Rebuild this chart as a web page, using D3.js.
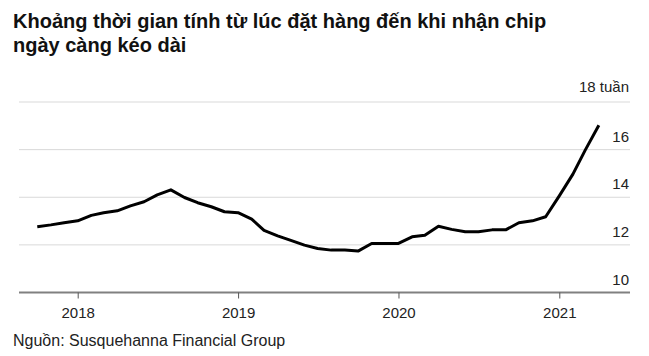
<!DOCTYPE html>
<html>
<head>
<meta charset="utf-8">
<script src="https://cdn.jsdelivr.net/npm/d3@7"></script>
<style>
  html, body { margin: 0; padding: 0; background: #fff; }
  svg { display: block; font-family: "Liberation Sans", Arial, Helvetica, sans-serif; }
</style>
</head>
<body>
<svg id="chart" width="649" height="356"></svg>
<script>
// ---- data ----
const titleLines = ["Khoảng thời gian tính từ lúc đặt hàng đến khi nhận chip", "ngày càng kéo dài"];
const sourceText = "Nguồn: Susquehanna Financial Group";
const unitLabel = "tuần";
const months = [
  "2017-10","2017-11","2017-12",
  "2018-01","2018-02","2018-03","2018-04","2018-05","2018-06","2018-07","2018-08","2018-09","2018-10","2018-11","2018-12",
  "2019-01","2019-02","2019-03","2019-04","2019-05","2019-06","2019-07","2019-08","2019-09","2019-10","2019-11","2019-12",
  "2020-01","2020-02","2020-03","2020-04","2020-05","2020-06","2020-07","2020-08","2020-09","2020-10","2020-11","2020-12",
  "2021-01","2021-02","2021-03","2021-04"
];
const leadTimeWeeks = [
  12.76,12.84,12.93,
  13.01,13.24,13.35,13.43,13.64,13.81,14.10,14.31,13.99,13.77,13.60,13.39,
  13.35,13.08,12.61,12.38,12.19,11.99,11.85,11.78,11.78,11.74,12.06,12.06,
  12.06,12.34,12.40,12.78,12.65,12.55,12.55,12.63,12.63,12.93,13.01,13.18,
  14.06,14.97,15.98,17.02
];
const yTicks = [10, 12, 14, 16, 18];
const xTickYears = [2018, 2019, 2020, 2021];

// ---- layout ----
const svg = d3.select("#chart");
const parse = d3.timeParse("%Y-%m");
const data = months.map((m, i) => ({ date: parse(m), value: leadTimeWeeks[i] }));

const plotLeft = 19, plotRight = 630;
const x = d3.scaleTime()
  .domain([new Date(2018, 0, 1), new Date(2021, 0, 1)])
  .range([77.7, 559.3]);
const y = d3.scaleLinear().domain([10, 18]).range([292.5, 102]);

// title
svg.append("g").selectAll("text").data(titleLines).join("text")
  .attr("x", 13)
  .attr("y", (d, i) => 28 + i * 24)
  .attr("font-size", 20)
  .attr("font-weight", "bold")
  .attr("fill", "#111")
  .text(d => d);

// gridlines
svg.append("g").selectAll("line").data(yTicks.filter(t => t > 10)).join("line")
  .attr("x1", plotLeft).attr("x2", plotRight)
  .attr("y1", d => y(d)).attr("y2", d => y(d))
  .attr("stroke", "#d9d9d9").attr("stroke-width", 1);

// y labels
svg.append("g").selectAll("text").data(yTicks).join("text")
  .attr("x", 629)
  .attr("y", d => y(d) - (d === 18 ? 10 : 8))
  .attr("text-anchor", "end")
  .attr("font-size", 15)
  .attr("fill", "#222")
  .text(d => d === 18 ? d + " " + unitLabel : d);

// x axis
svg.append("line")
  .attr("x1", plotLeft).attr("x2", plotRight)
  .attr("y1", y(10)).attr("y2", y(10))
  .attr("stroke", "#808080").attr("stroke-width", 2);

const xAxis = d3.axisBottom(x)
  .tickValues(xTickYears.map(yr => new Date(yr, 0, 1)))
  .tickFormat(d3.timeFormat("%Y"))
  .tickSize(6)
  .tickPadding(9);
const gx = svg.append("g")
  .attr("transform", `translate(0,${y(10)})`)
  .call(xAxis);
gx.select(".domain").remove();
gx.selectAll(".tick line").attr("stroke", "#555").attr("stroke-width", 1);
gx.selectAll(".tick text")
  .attr("font-size", 15)
  .attr("font-family", "Liberation Sans, Arial, sans-serif")
  .attr("fill", "#222");

// line
const line = d3.line().x(d => x(d.date)).y(d => y(d.value));
svg.append("path")
  .datum(data)
  .attr("d", line)
  .attr("fill", "none")
  .attr("stroke", "#000")
  .attr("stroke-width", 3)
  .attr("stroke-linejoin", "round")
  .attr("stroke-linecap", "butt");

// source
svg.append("text")
  .attr("x", 13).attr("y", 346)
  .attr("font-size", 16)
  .attr("fill", "#222")
  .text(sourceText);
</script>
</body>
</html>
